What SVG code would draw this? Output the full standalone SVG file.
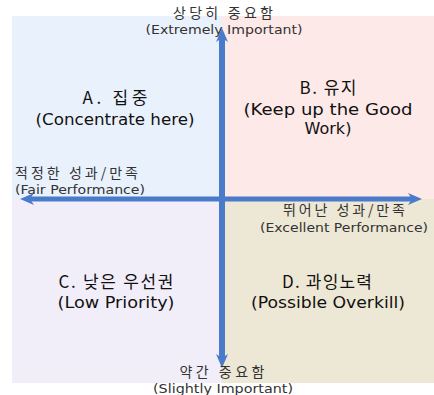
<svg xmlns="http://www.w3.org/2000/svg" width="434" height="395" viewBox="0 0 434 395">
<defs>
<style>
.q{stroke:none}
.lbl{font-family:"DejaVu Sans","Noto Sans CJK KR",sans-serif;fill:#111;text-anchor:middle;font-size:16px}
.ko{font-family:"Noto Sans CJK KR",sans-serif;fill:#111;text-anchor:middle;font-size:17px}
.ax{font-family:"DejaVu Sans","Noto Sans CJK KR",sans-serif;fill:#333;font-size:13px}
.axk{font-family:"Noto Sans CJK KR",sans-serif;fill:#333;font-size:14px}
.axis{stroke:#4a7bcb;fill:none}
</style>
<marker id="arr" viewBox="0 0 14 12" refX="4" refY="6" markerWidth="14" markerHeight="12" markerUnits="userSpaceOnUse" orient="auto-start-reverse">
<path d="M0,0 L14,6 L0,12 L4,6 Z" fill="#4a7bcb"/>
</marker>
</defs>
<rect width="434" height="395" fill="#ffffff"/>
<g id="quadrant-a">
<rect class="q" x="12" y="16" width="210" height="183" fill="#e9f1fc"/>
<text class="ko" x="115" y="104" textLength="65" lengthAdjust="spacing">A.  집중</text>
<text class="lbl" x="115" y="125" textLength="159" lengthAdjust="spacingAndGlyphs">(Concentrate  here)</text>
</g>
<g id="quadrant-b">
<rect class="q" x="222" y="16" width="212" height="183" fill="#fde9e8"/>
<text class="ko" x="328" y="94" textLength="57" lengthAdjust="spacing">B. 유지</text>
<text class="lbl" x="328" y="115" textLength="169" lengthAdjust="spacingAndGlyphs">(Keep up the Good</text>
<text class="lbl" x="328" y="134">Work)</text>
</g>
<g id="quadrant-c">
<rect class="q" x="12" y="199" width="210" height="184" fill="#f2eef9"/>
<text class="ko" x="116" y="288" textLength="115" lengthAdjust="spacing">C. 낮은 우선권</text>
<text class="lbl" x="116" y="308" textLength="117" lengthAdjust="spacingAndGlyphs">(Low  Priority)</text>
</g>
<g id="quadrant-d">
<rect class="q" x="222" y="199" width="212" height="184" fill="#ede7d5"/>
<text class="ko" x="327" y="288" textLength="90" lengthAdjust="spacing">D. 과잉노력</text>
<text class="lbl" x="328" y="308" textLength="154" lengthAdjust="spacingAndGlyphs">(Possible  Overkill)</text>
</g>
<g id="connectors">
<line class="axis" x1="222" y1="38" x2="222" y2="358" stroke-width="6" marker-start="url(#arr)" marker-end="url(#arr)"/>
<line class="axis" x1="30" y1="199" x2="412" y2="199" stroke-width="5" marker-start="url(#arr)" marker-end="url(#arr)"/>
</g>
<g id="label-top">
<text class="axk" x="223" y="18" text-anchor="middle" textLength="100" lengthAdjust="spacing">상당히 중요함</text>
<text class="ax" x="224" y="34" text-anchor="middle" textLength="157" lengthAdjust="spacingAndGlyphs">(Extremely Important)</text>
</g>
<g id="label-left">
<text class="axk" x="15" y="178" textLength="123" lengthAdjust="spacing">적정한 성과/만족</text>
<text class="ax" x="15" y="194" textLength="130" lengthAdjust="spacingAndGlyphs">(Fair Performance)</text>
</g>
<g id="label-right">
<text class="axk" x="344" y="215" text-anchor="middle" textLength="122" lengthAdjust="spacing">뛰어난 성과/만족</text>
<text class="ax" x="344" y="232" text-anchor="middle" textLength="168" lengthAdjust="spacingAndGlyphs">(Excellent Performance)</text>
</g>
<g id="label-bottom">
<text class="axk" x="222" y="377" text-anchor="middle" textLength="85" lengthAdjust="spacing">약간 중요함</text>
<text class="ax" x="223" y="393" text-anchor="middle" textLength="140" lengthAdjust="spacingAndGlyphs">(Slightly Important)</text>
</g>
</svg>
